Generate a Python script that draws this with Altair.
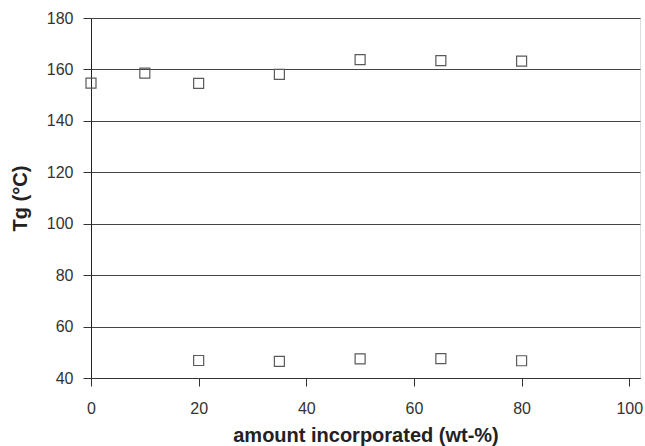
import altair as alt
import pandas as pd

# Glass transition temperatures vs. amount incorporated
upper_amount = [0, 10, 20, 35, 50, 65, 80]
upper_tg = [154.7, 158.6, 154.6, 158.1, 163.8, 163.4, 163.2]

lower_amount = [20, 35, 50, 65, 80]
lower_tg = [46.8, 46.5, 47.4, 47.5, 46.7]

x_ticks = [0, 20, 40, 60, 80, 100]
y_ticks = [40, 60, 80, 100, 120, 140, 160, 180]

df = pd.DataFrame({
    "amount": upper_amount + lower_amount,
    "tg": upper_tg + lower_tg,
})

FONT = "Liberation Sans"

points = alt.Chart(df).mark_point(
    shape="square", filled=False, size=100, stroke="#5a5a5a", strokeWidth=1.2,
    opacity=1,
).encode(
    x=alt.X(
        "amount:Q",
        title="amount incorporated (wt-%)",
        scale=alt.Scale(domain=[0, 102], nice=False, zero=False),
        axis=alt.Axis(
            values=x_ticks, grid=False, domainColor="#333", tickColor="#333",
            tickSize=8, labelPadding=14, labelFontSize=16, labelColor="#333",
            labelFont=FONT, titleFont=FONT, titleFontSize=20, titleFontWeight="bold",
            titleColor="#222", titlePadding=9, labelFlush=False,
        ),
    ),
    y=alt.Y(
        "tg:Q",
        title="Tg (°C)",
        scale=alt.Scale(domain=[40, 180], nice=False, zero=False),
        axis=alt.Axis(
            values=y_ticks, grid=True, gridColor="#444", gridWidth=1.2,
            domainColor="#222", tickColor="#333", tickSize=8, labelPadding=10,
            labelFontSize=16, labelColor="#333", labelFont=FONT, titleFont=FONT,
            titleFontSize=20, titleFontWeight="bold", titleColor="#222",
            titlePadding=16, labelFlush=False,
        ),
    ),
)

chart = points.properties(
    width=549,
    height=360,
    autosize=alt.AutoSizeParams(type="none"),
    padding={"left": 91, "top": 18, "right": 5, "bottom": 68},
).configure_view(
    stroke="#777", strokeWidth=1.2,
).configure(background="white")

chart.save("out.html", embed_options={"renderer": "svg", "actions": False})
